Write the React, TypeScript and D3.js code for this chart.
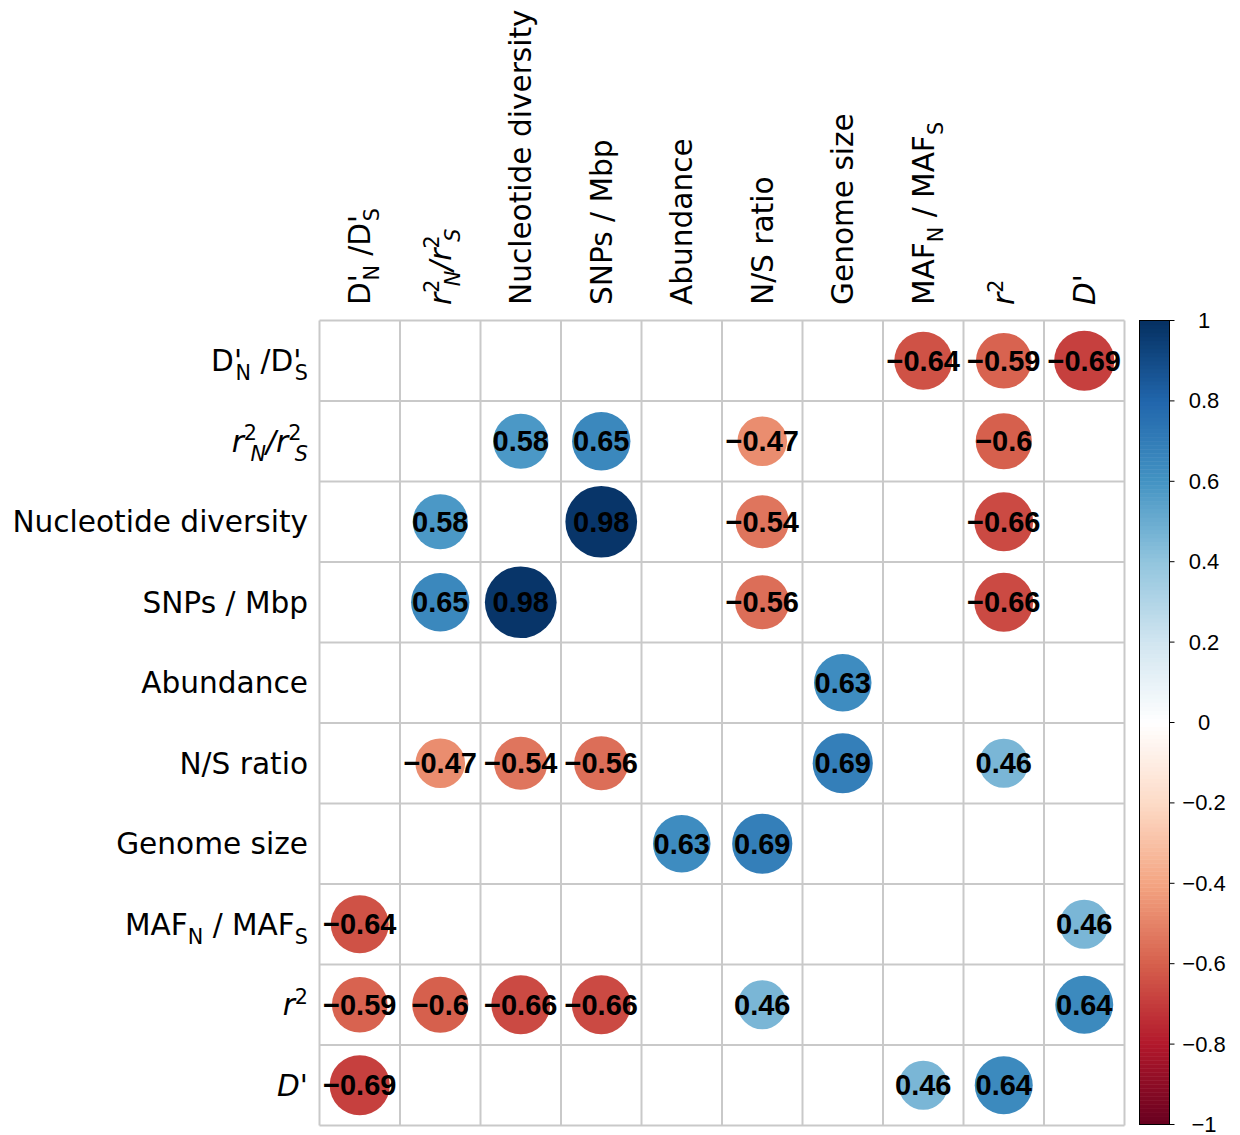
import React from "react";
import * as d3 from "d3";

// ---------- data ----------
type Part = { t: string; italic?: boolean; small?: boolean; off?: number; dx?: number };

const variableLabels: Part[][] = [
  [{ t: "D" }, { t: "'" }, { t: "N", small: true, off: 0.28, dx: -0.22 }, { t: " /D" }, { t: "'" }, { t: "S", small: true, off: 0.28, dx: -0.22 }],
  [
    { t: "r", italic: true }, { t: "2", small: true, off: -0.4 }, { t: "N", italic: true, small: true, off: 0.3, dx: -0.22 },
    { t: "/", italic: true },
    { t: "r", italic: true }, { t: "2", small: true, off: -0.4 }, { t: "S", italic: true, small: true, off: 0.3, dx: -0.22 },
  ],
  [{ t: "Nucleotide diversity" }],
  [{ t: "SNPs / Mbp" }],
  [{ t: "Abundance" }],
  [{ t: "N/S ratio" }],
  [{ t: "Genome size" }],
  [{ t: "MAF" }, { t: "N", small: true, off: 0.3 }, { t: " / MAF" }, { t: "S", small: true, off: 0.3 }],
  [{ t: "r", italic: true }, { t: "2", small: true, off: -0.4 }],
  [{ t: "D'", italic: true }],
];

// correlation matrix (null = not shown)
const corrRow0 = [null, null, null, null, null, null, null, -0.64, -0.59, -0.69];
const corrRow1 = [null, null, 0.58, 0.65, null, -0.47, null, null, -0.6, null];
const corrRow2 = [null, 0.58, null, 0.98, null, -0.54, null, null, -0.66, null];
const corrRow3 = [null, 0.65, 0.98, null, null, -0.56, null, null, -0.66, null];
const corrRow4 = [null, null, null, null, null, null, 0.63, null, null, null];
const corrRow5 = [null, -0.47, -0.54, -0.56, null, null, 0.69, null, 0.46, null];
const corrRow6 = [null, null, null, null, 0.63, 0.69, null, null, null, null];
const corrRow7 = [-0.64, null, null, null, null, null, null, null, null, 0.46];
const corrRow8 = [-0.59, -0.6, -0.66, -0.66, null, 0.46, null, null, null, 0.64];
const corrRow9 = [-0.69, null, null, null, null, null, null, 0.46, 0.64, null];
const corrMatrix: (number | null)[][] = [
  corrRow0, corrRow1, corrRow2, corrRow3, corrRow4, corrRow5, corrRow6, corrRow7, corrRow8, corrRow9,
];

const legendTicks = [1, 0.8, 0.6, 0.4, 0.2, 0, -0.2, -0.4, -0.6, -0.8, -1];

const paletteStops = [
  "#67001F", "#B2182B", "#D6604D", "#F4A582", "#FDDBC7", "#FFFFFF",
  "#D1E5F0", "#92C5DE", "#4393C3", "#2166AC", "#053061",
];

// ---------- layout ----------
const W = 1240;
const H = 1135;
const gridLeft = 319.5;
const gridTop = 320.5;
const gridSize = 805;
const labelFs = 29.6;
const numFs = 29;
const labelFont = "'DejaVu Sans', sans-serif";
const numFont = "'Liberation Sans', Arial, sans-serif";

function renderParts(parts: Part[], fs: number) {
  let cur = 0;
  const out: React.ReactNode[] = [];
  parts.forEach((p, i) => {
    const off = p.off ?? 0;
    const dy = (off - cur) * fs;
    cur = off;
    const size = p.small ? fs * 0.7 : fs;
    out.push(
      <tspan
        key={i}
        dy={dy !== 0 ? dy : undefined}
        dx={p.dx ? p.dx * fs : undefined}
        fontSize={size}
        fontStyle={p.italic ? "italic" : "normal"}
      >
        {p.t}
      </tspan>
    );
  });
  return out;
}

function fmt(v: number) {
  return String(v).replace("-", "\u2212");
}

export default function App() {
  const n = variableLabels.length;
  const idx = d3.range(n);
  const band = d3.scaleBand<number>().domain(idx).range([0, gridSize]).padding(0);
  const cell = band.bandwidth();
  const xPos = (i: number) => gridLeft + (band(i) as number);
  const yPos = (i: number) => gridTop + (band(i) as number);

  const color = d3
    .scaleLinear<string>()
    .domain(d3.range(paletteStops.length).map((i) => -1 + (2 * i) / (paletteStops.length - 1)))
    .range(paletteStops)
    .interpolate(d3.interpolateRgb);

  const rScale = (v: number) => (0.9 * Math.sqrt(Math.abs(v)) * cell) / 2;

  // legend
  const legX = 1139.5;
  const legW = 30;
  const legY = d3.scaleLinear().domain([1, -1]).range([320.5, 1124.5]);
  const nSteps = 200;
  const stepVals = d3.range(nSteps).map((i) => -1 + (2 * (i + 0.5)) / nSteps);
  const stepH = (legY(-1) - legY(1)) / nSteps;

  const cells: React.ReactNode[] = [];
  corrMatrix.forEach((row, ri) =>
    row.forEach((v, ci) => {
      if (v === null) return;
      const cx = xPos(ci) + cell / 2;
      const cy = yPos(ri) + cell / 2;
      cells.push(
        <g key={`c${ri}-${ci}`}>
          <circle cx={cx} cy={cy} r={rScale(v)} fill={color(v)} />
          <text
            x={cx}
            y={cy}
            textAnchor="middle"
            dominantBaseline="central"
            fontFamily={numFont}
            fontWeight="bold"
            fontSize={numFs}
            fill="#000"
          >
            {fmt(v)}
          </text>
        </g>
      );
    })
  );

  return (
    <svg
      width={W}
      height={H}
      style={{ position: "absolute", left: 0, top: 0, background: "#fff" }}
    >
      <rect x={0} y={0} width={W} height={H} fill="#fff" />
      {/* grid */}
      <g stroke="#c9c9c9" strokeWidth={2}>
        {d3.range(n + 1).map((i) => (
          <line key={`v${i}`} x1={gridLeft + i * cell} x2={gridLeft + i * cell} y1={gridTop} y2={gridTop + gridSize} />
        ))}
        {d3.range(n + 1).map((i) => (
          <line key={`h${i}`} y1={gridTop + i * cell} y2={gridTop + i * cell} x1={gridLeft} x2={gridLeft + gridSize} />
        ))}
      </g>
      {cells}
      {/* row labels */}
      {variableLabels.map((parts, i) => (
        <text
          key={`rl${i}`}
          x={308}
          y={yPos(i) + cell / 2 + 0.36 * labelFs}
          textAnchor="end"
          fontFamily={labelFont}
          fontSize={labelFs}
          fill="#000"
          style={{ whiteSpace: "pre" }}
        >
          {renderParts(parts, labelFs)}
        </text>
      ))}
      {/* column labels */}
      {variableLabels.map((parts, i) => (
        <text
          key={`cl${i}`}
          transform={`translate(${xPos(i) + cell / 2},305) rotate(-90)`}
          x={0}
          y={0.36 * labelFs}
          textAnchor="start"
          fontFamily={labelFont}
          fontSize={labelFs}
          fill="#000"
          style={{ whiteSpace: "pre" }}
        >
          {renderParts(parts, labelFs)}
        </text>
      ))}
      {/* color legend */}
      <g>
        {stepVals.map((v, i) => (
          <rect
            key={`lg${i}`}
            x={legX}
            y={legY(-1) - (i + 1) * stepH}
            width={legW}
            height={stepH + 0.5}
            fill={color(v)}
          />
        ))}
        <rect x={legX} y={legY(1)} width={legW} height={legY(-1) - legY(1)} fill="none" stroke="#000" strokeWidth={1} />
        {legendTicks.map((t) => (
          <g key={`lt${t}`}>
            <line x1={legX + legW} x2={legX + legW + 5} y1={legY(t)} y2={legY(t)} stroke="#000" strokeWidth={1} />
            <text
              x={1204}
              y={legY(t)}
              textAnchor="middle"
              dominantBaseline="central"
              fontFamily={numFont}
              fontSize={22}
              fill="#000"
            >
              {fmt(t)}
            </text>
          </g>
        ))}
      </g>
    </svg>
  );
}
